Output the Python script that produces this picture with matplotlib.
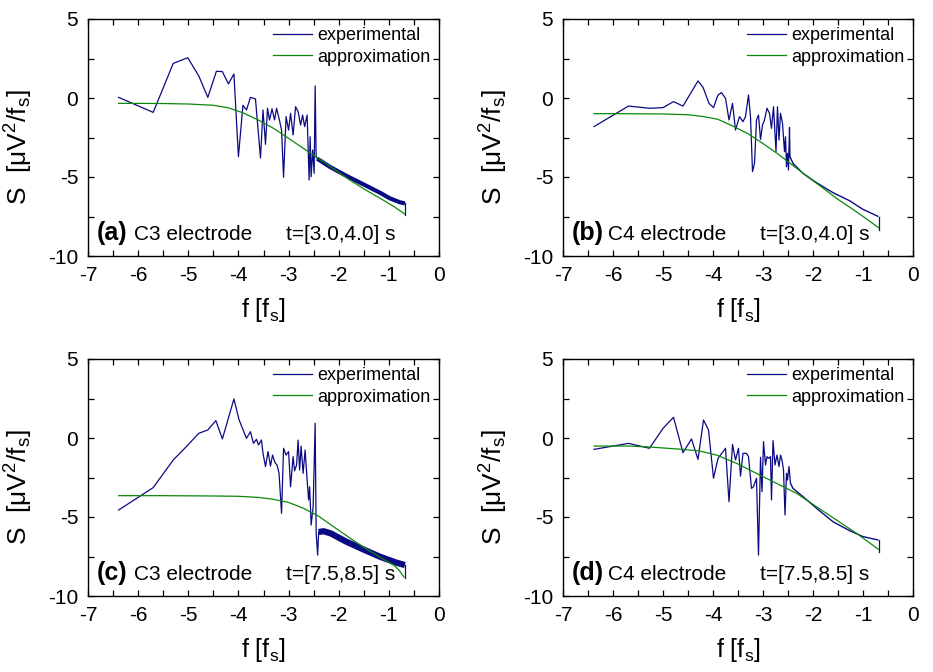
import matplotlib
matplotlib.use("Agg")
import matplotlib.pyplot as plt
from matplotlib.ticker import MultipleLocator

plt.rcParams["font.family"] = ["Liberation Sans", "DejaVu Sans"]
plt.rcParams["mathtext.fontset"] = "custom"
plt.rcParams["mathtext.rm"] = "Liberation Sans"
plt.rcParams["mathtext.it"] = "Liberation Sans:italic"
plt.rcParams["axes.unicode_minus"] = False

# ── (a) C3, t=[3.0,4.0] s ────────────────────────────────────────────────────
exp_f_a = [-6.39, -5.70, -5.30, -5.01, -4.79, -4.61, -4.44, -4.32, -4.20, -4.09,
           -4.00, -3.91, -3.84, -3.76, -3.66, -3.56, -3.51, -3.46, -3.42, -3.38,
           -3.33, -3.28, -3.24, -3.19, -3.14, -3.10, -3.05, -3.00, -2.96, -2.91,
           -2.86, -2.81, -2.76, -2.72, -2.68, -2.63, -2.59, -2.57, -2.55, -2.52,
           -2.49, -2.47, -2.45, -2.43]
exp_s_a = [0.04, -0.91, 2.19, 2.55, 1.39, 0.04, 1.69, 1.67, 0.89, 1.52,
           -3.71, -0.46, -0.76, 0.04, -0.06, -3.80, -0.76, -2.93, -0.65, -1.39,
           -0.68, -1.39, -0.65, -1.29, -2.03, -5.02, -1.18, -2.03, -0.97, -2.34,
           -0.55, -0.86, -1.71, -1.08, -1.81, -1.08, -5.19, -2.45, -4.98, -3.29,
           -4.77, 0.76, -3.71, -3.84]
tail_f_a = [-2.43, -2.18, -1.85, -1.51, -1.18, -0.98, -0.78, -0.68]
tail_s_a = [-3.84, -4.35, -4.92, -5.46, -5.99, -6.35, -6.60, -6.67]
end_s_a = -7.41
app_f_a = [-6.39, -6.0, -5.5, -5.0, -4.5, -4.2, -3.9, -3.6, -3.3, -3.0,
           -2.7, -2.4, -2.1, -1.8, -1.5, -1.2, -0.9, -0.68]
app_s_a = [-0.34, -0.34, -0.35, -0.38, -0.46, -0.62, -0.95, -1.40, -1.92, -2.55,
           -3.20, -3.85, -4.48, -5.15, -5.75, -6.30, -6.87, -7.35]

# ── (b) C4, t=[3.0,4.0] s ────────────────────────────────────────────────────
exp_f_b = [-6.38, -5.69, -5.27, -5.00, -4.79, -4.60, -4.30, -4.20, -4.08, -3.99,
           -3.90, -3.83, -3.75, -3.68, -3.61, -3.55, -3.47, -3.40, -3.35, -3.29,
           -3.25, -3.21, -3.17, -3.13, -3.09, -3.05, -3.01, -2.97, -2.92, -2.87,
           -2.83, -2.79, -2.74, -2.71, -2.68, -2.65, -2.61, -2.57, -2.55, -2.53,
           -2.51, -2.49, -2.47, -2.46]
exp_s_b = [-1.81, -0.51, -0.65, -0.61, -0.23, -0.51, 1.08, 0.68, -0.34, -0.61,
           0.19, 0.34, -0.02, -1.39, -0.34, -2.03, -1.18, -1.50, -1.18, 0.19,
           -1.18, -4.66, -4.14, -1.39, -1.08, -2.62, -1.71, -1.39, -0.65, -0.97,
           -1.92, -0.55, -3.40, -0.55, -2.66, -0.97, -1.60, -3.40, -2.45, -4.35,
           -3.50, -4.56, -1.86, -3.71]
tail_f_b = [-2.46, -2.40, -2.20, -1.93, -1.60, -1.27, -1.00, -0.80, -0.69]
tail_s_b = [-3.71, -4.14, -4.77, -5.36, -5.99, -6.50, -7.05, -7.34, -7.51]
end_s_b = -8.35
app_f_b = [-6.38, -6.0, -5.5, -5.0, -4.5, -4.2, -3.9, -3.6, -3.3, -3.0,
           -2.7, -2.4, -2.1, -1.8, -1.5, -1.2, -0.9, -0.69]
app_s_b = [-0.99, -0.99, -1.00, -1.01, -1.06, -1.17, -1.35, -1.78, -2.26, -2.88,
           -3.55, -4.27, -5.00, -5.70, -6.42, -7.05, -7.72, -8.21]

# ── (c) C3, t=[7.5,8.5] s ────────────────────────────────────────────────────
exp_f_c = [-6.39, -5.70, -5.30, -5.04, -4.79, -4.61, -4.45, -4.32, -4.09, -3.99,
           -3.84, -3.76, -3.70, -3.64, -3.60, -3.54, -3.51, -3.46, -3.41, -3.36,
           -3.32, -3.27, -3.23, -3.19, -3.14, -3.10, -3.05, -3.00, -2.96, -2.91,
           -2.88, -2.84, -2.81, -2.78, -2.75, -2.71, -2.67, -2.63, -2.60, -2.58,
           -2.55, -2.51, -2.47, -2.45, -2.42, -2.40]
exp_s_c = [-4.56, -3.14, -1.39, -0.55, 0.30, 0.51, 1.10, -0.06, 2.47, 1.18,
           -0.02, 0.40, -0.34, -0.08, -0.44, -0.13, -0.97, -1.81, -0.86, -1.77,
           -1.08, -1.56, -1.71, -2.24, -4.77, -0.65, -1.08, -0.86, -3.08, -1.18,
           -2.07, -1.71, -0.13, -2.03, -0.51, -2.24, -0.76, -2.66, -3.92, -3.08,
           -5.51, -4.35, 0.93, -5.99, -7.41, -5.95]
tail_f_c = [-2.40, -2.30, -2.15, -1.85, -1.51, -1.18, -0.85, -0.68]
tail_s_c = [-5.95, -5.90, -6.05, -6.56, -7.05, -7.51, -7.89, -8.04]
end_s_c = -8.88
app_f_c = [-6.39, -6.0, -5.5, -5.0, -4.5, -4.0, -3.6, -3.3, -3.0, -2.7,
           -2.4, -2.1, -1.8, -1.5, -1.2, -0.9, -0.8, -0.70]
app_s_c = [-3.65, -3.65, -3.65, -3.66, -3.67, -3.69, -3.76, -3.88, -4.08, -4.45,
           -4.95, -5.62, -6.28, -6.92, -7.50, -8.05, -8.35, -8.80]

# ── (d) C4, t=[7.5,8.5] s ────────────────────────────────────────────────────
exp_f_d = [-6.38, -5.69, -5.27, -5.00, -4.79, -4.60, -4.43, -4.30, -4.19, -4.09,
           -3.99, -3.90, -3.75, -3.68, -3.61, -3.55, -3.49, -3.45, -3.40, -3.33,
           -3.29, -3.23, -3.19, -3.13, -3.09, -3.05, -3.02, -2.99, -2.95, -2.92,
           -2.89, -2.85, -2.83, -2.80, -2.76, -2.72, -2.68, -2.65, -2.62, -2.59,
           -2.56, -2.53, -2.51, -2.48, -2.45]
exp_s_d = [-0.72, -0.34, -0.65, 0.61, 1.31, -0.93, -0.06, -1.35, 1.14, 0.51,
           -2.55, -1.29, -0.65, -4.03, -0.40, -1.39, -0.65, -2.41, -0.97, -0.97,
           -1.18, -3.19, -3.08, -2.55, -7.41, -1.22, -3.40, -0.23, -1.71, -1.18,
           -1.29, -1.18, -3.92, -0.17, -1.71, -1.08, -1.81, -1.08, -1.39, -2.03,
           -4.87, -2.24, -2.66, -1.81, -2.87]
tail_f_d = [-2.45, -2.40, -2.20, -1.93, -1.60, -1.27, -1.00, -0.69]
tail_s_d = [-2.87, -3.19, -3.71, -4.45, -5.30, -5.86, -6.24, -6.46]
end_s_d = -7.19
app_f_d = [-6.38, -5.69, -5.27, -4.60, -4.27, -3.93, -3.53, -3.13, -2.73, -2.33,
           -1.93, -1.53, -1.13, -0.69]
app_s_d = [-0.51, -0.51, -0.57, -0.72, -0.82, -1.08, -1.60, -2.24, -2.87, -3.50,
           -4.35, -5.19, -6.03, -7.05]

tags = ["(a)", "(b)", "(c)", "(d)"]
electrodes = ["C3 electrode", "C4 electrode", "C3 electrode", "C4 electrode"]
windows = ["t=[3.0,4.0] s", "t=[3.0,4.0] s", "t=[7.5,8.5] s", "t=[7.5,8.5] s"]

panels = [
    (exp_f_a, exp_s_a, tail_f_a, tail_s_a, end_s_a, app_f_a, app_s_a, 3.0),
    (exp_f_b, exp_s_b, tail_f_b, tail_s_b, end_s_b, app_f_b, app_s_b, 1.0),
    (exp_f_c, exp_s_c, tail_f_c, tail_s_c, end_s_c, app_f_c, app_s_c, 4.5),
    (exp_f_d, exp_s_d, tail_f_d, tail_s_d, end_s_d, app_f_d, app_s_d, 1.0),
]

BLUE = "#0a0a84"
GREEN = "#0a880a"

fig = plt.figure(figsize=(9.33, 6.72), dpi=100)
rects = [
    [88 / 933, 1 - 256 / 672, 351 / 933, 237 / 672],
    [563 / 933, 1 - 256 / 672, 350 / 933, 237 / 672],
    [88 / 933, 1 - 596 / 672, 351 / 933, 237 / 672],
    [563 / 933, 1 - 596 / 672, 350 / 933, 237 / 672],
]

for i, (rect, p) in enumerate(zip(rects, panels)):
    ef, es, tf, ts, end_s, af, as_, tail_lw = p
    ax = fig.add_axes(rect)
    ax.plot(ef, es, color=BLUE, lw=0.9, label="experimental")
    ax.plot(tf, ts, color=BLUE, lw=tail_lw, solid_capstyle="butt")
    ax.plot([tf[-1], tf[-1]], [ts[-1], end_s], color=BLUE, lw=0.9)
    ax.plot(af, as_, color=GREEN, lw=0.9, label="approximation")

    ax.set_xlim(-7, 0)
    ax.set_ylim(-10, 5)
    ax.xaxis.set_major_locator(MultipleLocator(1))
    ax.xaxis.set_minor_locator(MultipleLocator(0.5))
    ax.yaxis.set_major_locator(MultipleLocator(5))
    ax.yaxis.set_minor_locator(MultipleLocator(2.5))
    ax.tick_params(which="both", direction="in", top=True, right=True,
                   length=4, width=0.9, labelsize=15, pad=7)
    for sp in ax.spines.values():
        sp.set_linewidth(1.0)

    ax.set_xlabel(r"f [f$_\mathregular{s}$]", fontsize=18, labelpad=8)
    ax.set_ylabel(r"S  [μV$^\mathregular{2}$/f$_\mathregular{s}$]", fontsize=19)
    ax.yaxis.set_label_coords(-0.15, 0.46)

    ax.legend(loc="upper right", frameon=False, fontsize=13, handlelength=2.15,
              handletextpad=0.3, labelspacing=0.25, borderpad=0.0,
              borderaxespad=0.45)

    ax.text(0.025, 0.068, tags[i], transform=ax.transAxes, fontsize=18,
            fontweight="bold", va="baseline")
    ax.text(0.13, 0.068, electrodes[i], transform=ax.transAxes, fontsize=15,
            va="baseline")
    ax.text(0.563, 0.068, windows[i], transform=ax.transAxes, fontsize=15,
            va="baseline")

plt.savefig("out.png", dpi=100, facecolor="white")
plt.close(fig)
